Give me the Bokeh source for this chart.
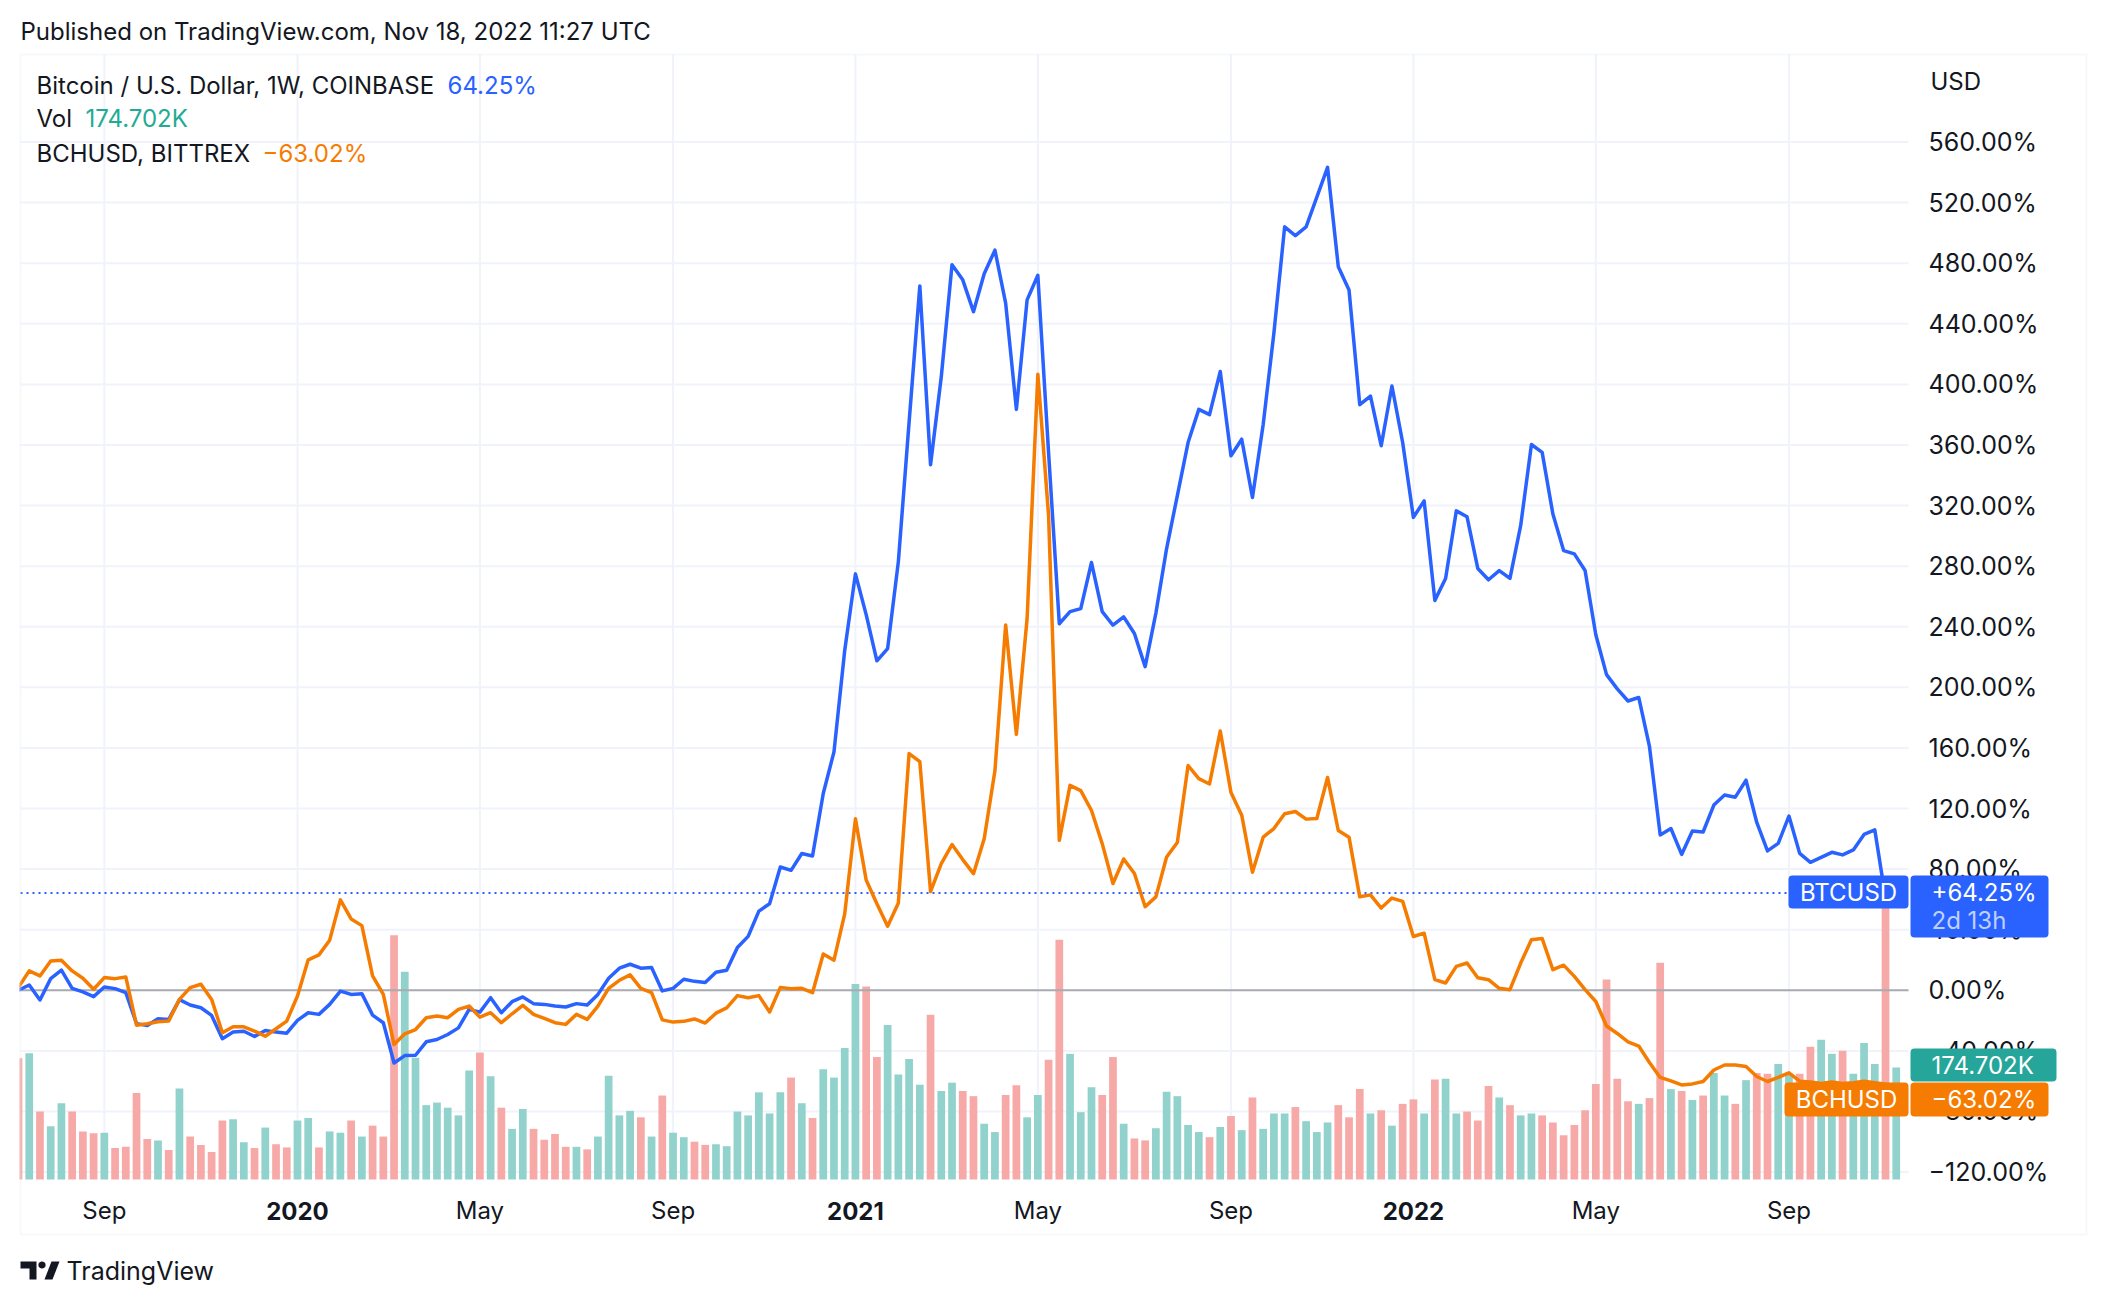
import datetime as dt
import math
from bokeh.plotting import figure
from bokeh.models import (Range1d, LinearAxis, DatetimeAxis, FixedTicker, CustomJSTickFormatter,
                          Label, BoxAnnotation, PolyAnnotation, ColumnDataSource, Grid)
from bokeh.embed import file_html
from bokeh.resources import INLINE

# ---------------- data ----------------
first_week = dt.datetime(2019, 7, 8)   # weekly bars (Mondays)

btc_pct = [0, 3.5, -6.4, 7.7, 13.3, 1.3, -1.1, -4.2, 2.2, 1.1,
           -1.5, -22, -23.2, -18.8, -19.2, -6.2, -9.7, -11.5, -16.6, -32,
           -27.6, -27, -30.5, -26.5, -27.6, -28.3, -19.9, -14.8, -15.9, -9.3,
           -0.5, -2.7, -2.2, -16.4, -21.4, -48, -43.1, -42.9, -34, -32.5,
           -29.2, -24.8, -12.6, -14.4, -4.9, -14.8, -7.5, -4.4, -8.8, -9.3,
           -10.4, -11, -8.8, -9.7, -2.7, 8, 14.6, 17.2, 14.6, 15,
           -0.4, 1.3, 7.3, 5.9, 5.1, 11.9, 13.2, 28.3, 35.6, 52.3,
           57.1, 81.4, 79.2, 90.3, 88.7, 129.9, 157.4, 224.3, 274.9, 248,
           217.5, 225.6, 283, 375, 465, 347, 405, 479, 469, 448,
           473, 488.6, 453.6, 383.5, 455.8, 472, 355, 242, 250, 252,
           282.4, 250, 241, 246.5, 235.5, 213.7, 249, 291.6, 326.6, 361.6,
           383.5, 380, 408.5, 352.9, 363.8, 325.3, 373.5, 433.9, 504, 498.2,
           504, 523.6, 543.3, 477.7, 462.3, 386.6, 392.3, 359.5, 398.9, 361.6,
           312.2, 323.1, 257.4, 271.9, 316.5, 312.6, 278.5, 271, 277.1, 271.9,
           306.9, 360.3, 355.1, 314.4, 290.3, 288.1, 277.1, 234.7, 208.4, 199,
           191, 193.3, 161, 102.6, 106.8, 89.7, 105.2, 104.5, 122.3, 128.9,
           127.5, 138.7, 110.8, 92, 97, 115, 90.4, 84.5, 87.8, 91.1,
           89.4, 92.7, 102.9, 105.9, 61, 64.25]

bch_pct = [2, 12.8, 9.5, 19.4, 19.9, 12.8, 8, 0.7, 8.4, 7.7,
           8.8, -23, -22.1, -20.8, -20.3, -6, 1.8, 4, -6, -28,
           -24.1, -24.1, -27, -30.3, -25.4, -20.3, -3.8, 20.1, 23.4, 33.1,
           59.7, 47.1, 42.7, 9.5, -2.7, -35.8, -28.7, -25.9, -18.1, -17,
           -18.1, -12.6, -10.4, -17.7, -14.8, -21.4, -15.5, -9.9, -15.9, -18.6,
           -21.4, -22.5, -15.9, -19.2, -10.4, 1.3, 6.6, 10.2, 1.3, -1.5,
           -19.5, -21, -20.5, -18.9, -21.6, -15.1, -11.6, -3.5, -4.9, -3.5,
           -14.3, 1.9, 1.1, 1.3, -1.6, 24, 19.9, 50.4, 113.2, 72.8,
           57.1, 42.3, 57.7, 156.3, 150.9, 65.2, 83.6, 96.2, 86.3, 77,
           100, 144.9, 241.2, 169, 245.6, 406.7, 313.5, 99, 135.3, 131.8,
           118.7, 96.8, 70.5, 86.7, 77.1, 55.2, 61.7, 88, 97.6, 148.4,
           139.7, 136.2, 171.2, 130.5, 115.6, 77.9, 101.1, 106.8, 116.5, 118,
           113, 113.4, 140.5, 105.5, 101.1, 61.7, 63, 54.3, 60.9, 58.7,
           35.5, 37.7, 7, 4.8, 15.8, 18, 8.3, 7, 1.3, 0.4,
           18, 33.3, 34.2, 13.6, 16.6, 9.2, 0.4, -7.4, -23.6, -28.5,
           -34, -36.8, -47.7, -57.5, -59.8, -62.5, -61.8, -60.2, -52.6, -49.3,
           -49.3, -50.3, -56.9, -60.2, -57.5, -54.5, -60, -60.5, -61.5, -60.5,
           -61.5, -61, -60, -61, -62, -63.02]

vol_k = [189, 197, 106, 83, 119, 106, 75, 72, 73, 49,
         51, 135, 63, 61, 46, 142, 67, 54, 43, 92,
         94, 58, 49, 81, 55, 50, 92, 96, 50, 75,
         73, 92, 67, 84, 67, 381, 324, 190, 116, 120,
         112, 100, 170, 198, 161, 112, 79, 110, 79, 62,
         71, 51, 51, 47, 67, 162, 100, 107, 97, 67,
         131, 73, 66, 59, 54, 55, 52, 106, 100, 136,
         103, 136, 159, 119, 96, 172, 159, 205, 305, 301,
         191, 241, 164, 188, 148, 257, 138, 151, 138, 130,
         87, 74, 132, 147, 97, 132, 187, 374, 196, 105,
         144, 132, 191, 87, 64, 61, 80, 137, 130, 85,
         74, 66, 82, 99, 77, 128, 79, 103, 103, 113,
         91, 74, 89, 116, 97, 141, 103, 108, 84, 118,
         125, 103, 156, 157, 103, 106, 92, 146, 128, 116,
         100, 103, 100, 89, 69, 85, 108, 149, 312, 157,
         122, 118, 127, 338, 141, 138, 124, 131, 166, 131,
         118, 155, 166, 165, 180, 165, 165, 207, 218, 196,
         201, 165, 213, 180, 430, 174.7]

tick_dates = ["2019-09-02", "2020-01-06", "2020-05-04", "2020-09-07", "2021-01-04",
              "2021-05-03", "2021-09-06", "2022-01-03", "2022-05-02", "2022-09-05"]
tick_labels = ["Sep", "2020", "May", "Sep", "2021", "May", "Sep", "2022", "May", "Sep"]
year_labels = ["2020", "2021", "2022"]
y_ticks = [-120, -80, -40, 0, 40, 80, 120, 160, 200, 240, 280, 320, 360, 400, 440, 480, 520, 560]

# ---------------- helpers ----------------
EPOCH = dt.datetime(1970, 1, 1)
WEEK_MS = 7 * 24 * 3600 * 1000.0


def to_ms(d):
    return (d - EPOCH).total_seconds() * 1000.0


n = len(btc_pct)
dates = [first_week + dt.timedelta(weeks=i) for i in range(n)]
t0 = to_ms(first_week)
tick_ms = [to_ms(dt.datetime.strptime(s, "%Y-%m-%d")) for s in tick_dates]

UP = "#92d2cc"
DOWN = "#f7a9a7"
vol_colors = [DOWN if (i == 0 or btc_pct[i] < btc_pct[i - 1]) else UP for i in range(n)]

FONT = "Inter"
TXT = "#131722"
BLUE = "#2962ff"
ORANGE = "#f57c00"
TEAL = "#22ab94"
GRID = "#f0f3fa"

W, H = 2106, 1306
# pane (in canvas px): x 20..1908, y 54..1179
PL, PR, PT, PB = 20, 1908, 54, 1179
PX_WEEK = 10.73          # px per week
X_I0 = 18.0              # canvas x of first bar
PX_PCT = 1.5148          # px per percent
Y_ZERO = 989.8           # canvas y of 0 %
PX_K = 0.641             # px per 1K volume


def x_at(X):
    return t0 + (X - X_I0) / PX_WEEK * WEEK_MS


def y_at(Y):
    return (Y_ZERO - Y) / PX_PCT


p = figure(width=W, height=H, output_backend="svg", toolbar_location=None,
           x_axis_type=None, y_axis_location=None,
           x_range=Range1d(x_at(0), x_at(W)), y_range=Range1d(y_at(H), y_at(0)),
           min_border=0)
p.outline_line_color = None
p.background_fill_color = "white"
p.border_fill_color = "white"
p.extra_y_ranges = {"vol": Range1d(-(H - PB) / PX_K, PB / PX_K)}
# drop any default grids (grid lines are drawn below, limited to the pane)
p.center = [r for r in p.center if not isinstance(r, Grid)]

# axes, pinned to the pane edges
yax = LinearAxis(ticker=FixedTicker(ticks=y_ticks), fixed_location=x_at(PR),
                 formatter=CustomJSTickFormatter(code="""
                    const v = Math.abs(tick).toFixed(2) + "%";
                    return tick < 0 ? "\u2212" + v : v;"""))
yax.axis_line_color = None
yax.major_tick_line_color = None
yax.minor_tick_line_color = None
yax.major_label_standoff = 14
yax.major_label_text_font = FONT
yax.major_label_text_font_size = "25px"
yax.major_label_text_color = TXT
p.add_layout(yax, "right")

xax = DatetimeAxis(ticker=FixedTicker(ticks=tick_ms), fixed_location=y_at(PB),
                   formatter=CustomJSTickFormatter(args=dict(tvals=tick_ms, tlabs=tick_labels,
                                                             yrs=year_labels), code="""
                    for (let j = 0; j < tvals.length; j++) {
                        if (Math.abs(tvals[j] - tick) < 1e6) {
                            return yrs.includes(tlabs[j]) ? "" : tlabs[j];
                        }
                    }
                    return "";"""))
xax.axis_line_color = None
xax.major_tick_line_color = None
xax.minor_tick_line_color = None
xax.major_label_standoff = 10
xax.major_label_text_font = FONT
xax.major_label_text_font_size = "24px"
xax.major_label_text_color = TXT
p.add_layout(xax, "below")

# grid lines limited to the pane
p.segment(x0=tick_ms, y0=[y_at(PB)] * len(tick_ms), x1=tick_ms, y1=[y_at(PT)] * len(tick_ms),
          line_color=GRID, line_width=2)
p.segment(x0=[x_at(PL)] * len(y_ticks), y0=y_ticks, x1=[x_at(PR)] * len(y_ticks), y1=y_ticks,
          line_color=GRID, line_width=2)

# volume
src = ColumnDataSource(dict(date=dates, vol=vol_k, color=vol_colors))
p.vbar(x="date", top="vol", bottom=0, width=0.72 * WEEK_MS, source=src, y_range_name="vol",
       fill_color="color", line_color=None)

# zero line & last-price dotted line (pane width only)
p.segment(x0=[x_at(PL)], y0=[0], x1=[x_at(PR)], y1=[0], line_color="#a9abb1", line_width=2)
p.segment(x0=[x_at(PL)], y0=[btc_pct[-1]], x1=[x_at(PR)], y1=[btc_pct[-1]],
          line_color=BLUE, line_width=2, line_dash="2 4")

# series
p.line(dates, btc_pct, line_color=BLUE, line_width=3.5, line_join="round")
p.line(dates, bch_pct, line_color=ORANGE, line_width=3.5, line_join="round")


# ---------------- annotations (screen units, frame == whole canvas) ----------------
def sx(X):
    return X


def sy(Y):
    return H - Y


def text(X, Y, s, color=TXT, size="24px", align="left", style="normal"):
    p.add_layout(Label(x=sx(X), y=sy(Y), x_units="screen", y_units="screen", text=s,
                       text_font=FONT, text_font_size=size, text_color=color,
                       text_align=align, text_baseline="middle", text_font_style=style))


def box(X0, X1, Y0, Y1, color, radius=4):
    p.add_layout(BoxAnnotation(left=sx(X0), right=sx(X1), top=sy(Y0), bottom=sy(Y1),
                               left_units="screen", right_units="screen",
                               top_units="screen", bottom_units="screen",
                               fill_color=color, fill_alpha=1.0, line_color=None,
                               border_radius=radius))


# mask anything left of the pane edge
box(0, PL - 1, PT - 2, PB + 2, "white", radius=0)

# bold year labels on the time axis
for ms, lab in zip(tick_ms, tick_labels):
    if lab in year_labels:
        p.add_layout(Label(x=ms, y=sy(1210), y_units="screen", text=lab, text_font=FONT,
                           text_font_size="24px", text_font_style="bold", text_color=TXT,
                           text_align="center", text_baseline="middle"))

# outer border
p.add_layout(BoxAnnotation(left=sx(20), right=sx(2086), top=sy(54), bottom=sy(1234),
                           left_units="screen", right_units="screen",
                           top_units="screen", bottom_units="screen",
                           fill_color=None, line_color="#e6e8ec", line_width=2))

text(20, 31, "Published on TradingView.com, Nov 18, 2022 11:27 UTC")
text(36, 85, "Bitcoin / U.S. Dollar, 1W, COINBASE")
text(447, 85, "64.25%", color=BLUE)
text(36, 118, "Vol")
text(85, 118, "174.702K", color=TEAL)
text(36, 153, "BCHUSD, BITTREX")
text(262, 153, "\u221263.02%", color=ORANGE)
text(1930, 81, "USD")

# last value tags
box(1788, 1908, 875, 908, BLUE)
text(1848, 892, "BTCUSD", color="white", align="center")
box(1910, 2048, 875, 937, BLUE)
text(1931, 892, "+64.25%", color="white")
text(1931, 920, "2d 13h", color="#bfd0ff")
box(1910, 2056, 1048, 1081, "#26a69a")
text(1931, 1065, "174.702K", color="white")
box(1784, 1908, 1082, 1116, ORANGE)
text(1846, 1099, "BCHUSD", color="white", align="center")
box(1910, 2048, 1082, 1116, ORANGE)
text(1931, 1099, "\u221263.02%", color="white")

# TradingView logo
p.add_layout(PolyAnnotation(xs=[sx(v) for v in [20, 36, 36, 29, 29, 20]],
                            ys=[sy(v) for v in [1261, 1261, 1279, 1279, 1268, 1268]],
                            xs_units="screen", ys_units="screen",
                            fill_color=TXT, fill_alpha=1, line_color=None))
circ_x = [sx(41.5 + 3.6 * math.cos(a * math.pi / 8)) for a in range(16)]
circ_y = [sy(1264.5 + 3.6 * math.sin(a * math.pi / 8)) for a in range(16)]
p.add_layout(PolyAnnotation(xs=circ_x, ys=circ_y, xs_units="screen", ys_units="screen",
                            fill_color=TXT, fill_alpha=1, line_color=None))
p.add_layout(PolyAnnotation(xs=[sx(v) for v in [44, 51, 59, 52]],
                            ys=[sy(v) for v in [1279, 1261, 1261, 1279]],
                            xs_units="screen", ys_units="screen",
                            fill_color=TXT, fill_alpha=1, line_color=None))
text(66, 1270, "TradingView", size="25px")

open("out.html", "w").write(file_html(p, INLINE))
